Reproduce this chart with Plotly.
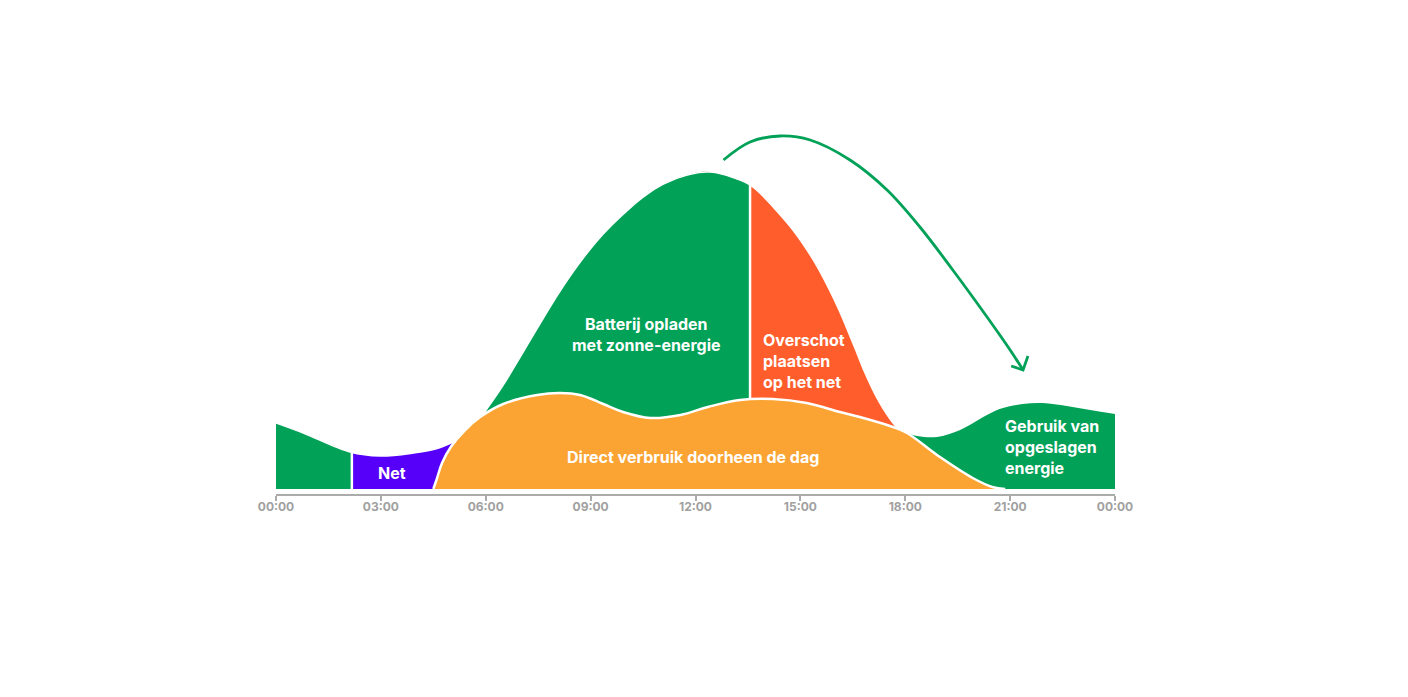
import plotly.graph_objects as go

# ---- data (hours of the day, energy in chart units) ----
night_hours = [0.0, 0.78, 2.12, 2.98, 3.93, 4.56, 5.08, 5.43]
night_demand = [66, 56, 37, 33, 36, 40, 47, 53]
grid_start_hour = 2.17

direct_hours = [4.50, 4.59, 4.75, 5.00, 5.41, 5.84, 6.50, 7.47, 8.13, 8.70, 9.36, 9.93, 10.71,
                11.57, 12.35, 13.27, 14.21, 15.18, 16.13, 16.70, 17.65, 18.05, 18.99,
                19.93, 20.49, 20.86]
direct_use = [0, 9, 26, 42, 59, 72, 85, 94, 96, 94, 85, 77, 71,
              74, 82, 89, 90, 86, 77, 72, 62, 56, 32,
              11, 2, 0]

solar_hours = [5.78, 6.50, 7.07, 7.65, 8.22, 8.79, 9.36, 9.94, 10.51, 11.08, 11.76, 12.42,
               13.19, 13.56, 14.22, 15.19, 15.93, 16.50, 16.90, 17.27, 17.65, 17.93]
solar_prod = [68, 104, 137, 171, 203, 231, 255, 275, 292, 305, 314, 317,
              310, 304, 282, 239, 192, 146, 112, 86, 66, 56]
surplus_start_hour = 13.56

evening_hours = [17.94, 18.34, 18.91, 19.57, 20.23, 20.70, 21.36, 21.93, 22.62, 23.29, 24.0]
evening_demand = [57, 53, 52, 59, 72, 80, 85, 86, 83, 79, 75]

arrow_hours = [12.80, 13.56, 14.42, 15.28, 16.42, 17.48, 18.42, 19.36, 20.34, 21.0, 21.37]
arrow_vals = [329, 347, 353, 349, 329, 299, 262, 219, 172, 139, 119]
arrowhead_hours = [21.03, 21.37, 21.51]
arrowhead_vals = [123, 119, 133]

tick_hours = [0, 3, 6, 9, 12, 15, 18, 21, 24]
tick_labels = ["00:00", "03:00", "06:00", "09:00", "12:00", "15:00", "18:00", "21:00", "00:00"]

GREEN = "#01A158"
RED = "#FF5E2C"
PURPLE = "#5600FA"
ORANGE = "#FBA433"
WHITE = "#FFFFFF"

fig = go.Figure()


def area(xs, ys, color, sm=1.0):
    fig.add_trace(go.Scatter(x=xs, y=ys, mode="lines", fill="tozeroy",
                             fillcolor=color, line=dict(color=color, width=0, shape="spline", smoothing=sm),
                             hoverinfo="skip", showlegend=False))


def line(xs, ys, color, width, shape="spline", sm=1.0):
    fig.add_trace(go.Scatter(x=xs, y=ys, mode="lines",
                             line=dict(color=color, width=width, shape=shape, smoothing=sm),
                             hoverinfo="skip", showlegend=False))


# night: purple grid usage, green battery before it
area(night_hours, night_demand, PURPLE)
k = sum(1 for h in night_hours if h <= grid_start_hour)
left_h = night_hours[:k] + [grid_start_hour]
left_v = night_demand[:k] + [night_demand[k - 1] + (night_demand[k] - night_demand[k - 1]) *
                             (grid_start_hour - night_hours[k - 1]) / (night_hours[k] - night_hours[k - 1])]
area(left_h, left_v, GREEN)
line(night_hours, night_demand, WHITE, 1.5)
line([grid_start_hour, grid_start_hour], [0, 45], WHITE, 2.5, "linear")

# evening: stored energy
area(evening_hours, evening_demand, GREEN)

# solar: surplus (red) and battery charging (green)
area(solar_hours, solar_prod, RED, 1.3)
j = solar_hours.index(surplus_start_hour)
area(solar_hours[:j + 1], solar_prod[:j + 1], GREEN, 1.3)
line(solar_hours, solar_prod, WHITE, 1.5, sm=1.3)
line([surplus_start_hour, surplus_start_hour], [0, solar_prod[j] + 6], WHITE, 2.5, "linear")

# direct consumption on top with white outline
fig.add_trace(go.Scatter(x=direct_hours, y=direct_use, mode="lines", fill="tozeroy",
                         fillcolor=ORANGE, line=dict(color=WHITE, width=2.5, shape="spline", smoothing=1.1),
                         hoverinfo="skip", showlegend=False))

# arrow
line(arrow_hours, arrow_vals, GREEN, 2.8)
line(arrowhead_hours, arrowhead_vals, GREEN, 2.8, "linear")

lab = dict(family="Inter", size=16, color=WHITE, weight=700)
anns = [
    dict(x=10.59, y=154.5, text="Batterij opladen<br>met zonne-energie", xanchor="center", align="center"),
    dict(x=13.87, y=128, text="Overschot<br>plaatsen<br>op het net", xanchor="left", align="left"),
    dict(x=11.93, y=32, text="Direct verbruik doorheen de dag", xanchor="center", align="center"),
    dict(x=3.33, y=16, text="Net", xanchor="center", align="center"),
    dict(x=20.80, y=42, text="Gebruik van<br>opgeslagen<br>energie", xanchor="left", align="left"),
]
for a in anns:
    fig.add_annotation(x=a["x"], y=a["y"], text=a["text"], xanchor=a["xanchor"], yanchor="middle",
                       align=a["align"], showarrow=False, font=lab)

fig.update_layout(
    width=1408, height=697, autosize=False,
    margin=dict(l=268, r=301, t=92, b=211, pad=0),
    paper_bgcolor=WHITE, plot_bgcolor=WHITE,
    xaxis=dict(range=[0, 24], tickvals=tick_hours, ticktext=tick_labels,
               showgrid=False, zeroline=False, showline=True, linecolor="#ABABAB", linewidth=2,
               ticks="outside", ticklen=5, tickwidth=2, tickcolor="#ABABAB",
               ticklabelstandoff=-4,
               tickfont=dict(family="Inter", size=12, color="#A0A0A0", weight=700), fixedrange=True),
    yaxis=dict(range=[-5, 389], visible=False, fixedrange=True),
)

fig.write_html("out.html", config={"displayModeBar": False})
